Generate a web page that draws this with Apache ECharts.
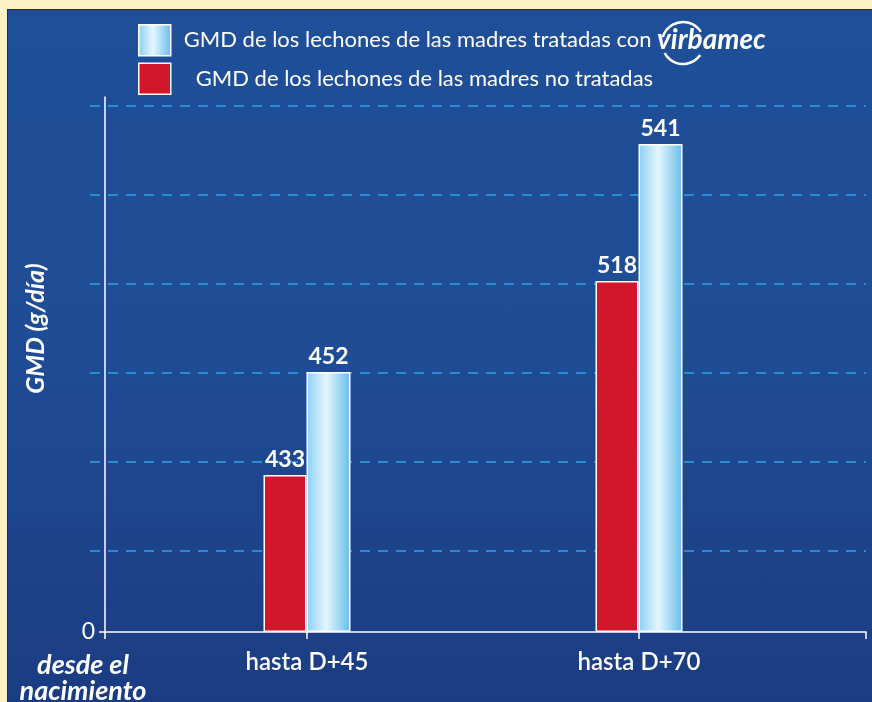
<!DOCTYPE html>
<html>
<head>
<meta charset="utf-8">
<script src="https://cdn.jsdelivr.net/npm/echarts@6/dist/echarts.min.js"></script>
<style>
  html, body { margin: 0; padding: 0; width: 872px; height: 702px; background: #fcf2c4; overflow: hidden; }
  #panel { position: absolute; left: 7px; top: 9px; width: 865px; height: 693px;
           background: linear-gradient(to bottom, #1f4f99 0%, #1f4c95 50%, #1b3c82 100%);
           border-left: 1px solid #2b2b2b; border-top: 1px solid #2b2b2b; }
  #chart { position: absolute; left: 0; top: 0; width: 872px; height: 702px; }
</style>
</head>
<body>
<div id="panel"></div>
<div id="chart"></div>
<script>
// ---- data ----
var categories = ['hasta D+45', 'hasta D+70'];
var seriesNames = ['GMD de los lechones de las madres no tratadas',
                   'GMD de los lechones de las madres tratadas con'];
var untreated = [433, 518];
var treated = [452, 541];
var zeroTick = [0];

var FONT = 'Lato';
var chart = echarts.init(document.getElementById('chart'));

var blueGrad = new echarts.graphic.LinearGradient(0, 0, 1, 0, [
  { offset: 0, color: '#8ad0f2' },
  { offset: 0.45, color: '#e4f6fd' },
  { offset: 1, color: '#66bcea' }
]);

var option = {
  backgroundColor: 'transparent',
  animation: false,
  textStyle: { fontFamily: FONT },
  legend: {
    orient: 'vertical',
    left: 133, top: 19,
    icon: 'rect',
    itemWidth: 32, itemHeight: 31, itemGap: 6,
    selectedMode: false,
    data: [seriesNames[1], seriesNames[0]],
    itemStyle: { borderColor: '#ffffff', borderWidth: 1.5 },
    formatter: function (name) {
      if (name === seriesNames[1]) return '{a|' + name + '} {v|virbamec}';
      return '{b|' + name + '}';
    },
    textStyle: {
      color: '#ffffff', fontSize: 22, fontFamily: FONT,
      rich: {
        a: { color: '#ffffff', fontSize: 22, fontFamily: FONT, padding: [0, 0, 0, 8] },
        v: { color: '#ffffff', fontSize: 28, fontFamily: FONT, fontStyle: 'italic', fontWeight: 'bold', lineHeight: 30 },
        b: { color: '#ffffff', fontSize: 22, fontFamily: FONT, padding: [0, 0, 0, 20] }
      }
    }
  },
  grid: [
    { left: 105, right: 6, top: 97, bottom: 70 },   // axis lines
    { left: 141, right: 67, top: 97, bottom: 70 },  // bars
    { left: 90, right: 6, top: 106, height: 445 }   // dashed grid lines
  ],
  xAxis: [
    { type: 'category', gridIndex: 0, data: [''], boundaryGap: true,
      axisLine: { lineStyle: { color: '#ffffff', width: 1.5 } },
      axisTick: { show: true, length: 7, lineStyle: { color: '#ffffff', width: 1.5 } },
      axisLabel: { show: false }, splitLine: { show: false } },
    { type: 'category', gridIndex: 1, data: categories,
      axisLine: { show: false },
      axisTick: { show: true, alignWithLabel: true, length: 7, lineStyle: { color: '#ffffff', width: 1.5 } },
      axisLabel: { color: '#ffffff', fontSize: 24, fontFamily: FONT, fontWeight: 600, margin: 18 } },
    { type: 'value', gridIndex: 2, show: false }
  ],
  yAxis: [
    { type: 'value', gridIndex: 0, min: 0, max: 1,
      axisLine: { show: true, lineStyle: { color: '#ffffff', width: 1.5 } },
      axisTick: { show: true, length: 6, customValues: zeroTick, lineStyle: { color: '#ffffff', width: 1.5 } },
      axisLabel: { show: true, customValues: zeroTick, color: '#ffffff', fontSize: 23, fontFamily: FONT, margin: 10 },
      splitLine: { show: false } },
    { type: 'value', gridIndex: 1, min: 0, max: 549.67,
      breaks: [
        { start: 10, end: 425, gap: 10.96 },
        { start: 456, end: 514, gap: 8.79 },
        { start: 525, end: 535, gap: 12.27 }
      ],
      breakArea: { show: false },
      axisLine: { show: false }, axisTick: { show: false }, axisLabel: { show: false },
      splitLine: { show: false } },
    { type: 'value', gridIndex: 2, min: 1, max: 6, interval: 1,
      name: 'GMD (g/día)', nameLocation: 'middle', nameGap: 42, nameRotate: 90,
      nameTextStyle: { color: '#ffffff', fontSize: 25, fontStyle: 'italic', fontWeight: 'bold', fontFamily: FONT },
      axisLine: { show: false }, axisTick: { show: false }, axisLabel: { show: false },
      splitLine: { show: true, lineStyle: { color: '#2ea3e6', width: 1.5, type: [10, 8] } } }
  ],
  series: [
    { name: seriesNames[0], type: 'bar', xAxisIndex: 1, yAxisIndex: 1,
      data: untreated, barWidth: 43, barGap: '0%',
      itemStyle: { color: '#d2172d', borderColor: '#ffffff', borderWidth: 1.5 },
      label: { show: true, position: 'top', distance: 4, color: '#ffffff', fontSize: 23, fontWeight: 'bold', fontFamily: FONT } },
    { name: seriesNames[1], type: 'bar', xAxisIndex: 1, yAxisIndex: 1,
      data: treated, barWidth: 44, barGap: '0%',
      itemStyle: { color: blueGrad, borderColor: '#ffffff', borderWidth: 1.5 },
      label: { show: true, position: 'top', distance: 4, color: '#ffffff', fontSize: 23, fontWeight: 'bold', fontFamily: FONT } }
  ],
  graphic: [
    { type: 'text', x: 83, y: 652,
      style: { text: 'desde el\nnacimiento', fill: '#ffffff', fontSize: 27, lineHeight: 26,
               align: 'center', textAlign: 'center',
               fontStyle: 'italic', fontWeight: 'bold', fontFamily: FONT } },
    { type: 'arc', shape: { cx: 683, cy: 43, r: 21, startAngle: 196 * Math.PI / 180, endAngle: 328 * Math.PI / 180, clockwise: true },
      style: { stroke: '#ffffff', lineWidth: 2.5, fill: null } },
    { type: 'arc', shape: { cx: 683, cy: 43, r: 21, startAngle: 35 * Math.PI / 180, endAngle: 151 * Math.PI / 180, clockwise: true },
      style: { stroke: '#ffffff', lineWidth: 2.5, fill: null } }
  ]
};
chart.setOption(option);
</script>
</body>
</html>
